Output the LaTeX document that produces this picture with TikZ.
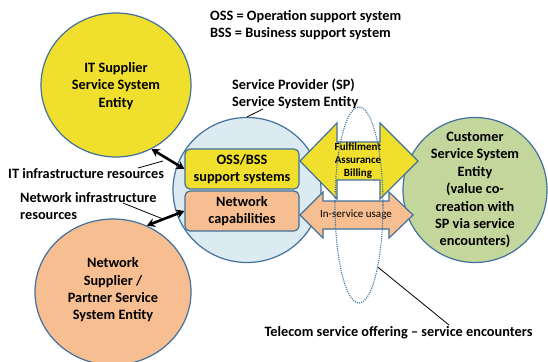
\documentclass[tikz,border=0pt]{standalone}
\usepackage{fontspec}
\setmainfont{Carlito}
\usetikzlibrary{shapes.geometric,arrows.meta}

\definecolor{edgeblue}{RGB}{65,113,156}
\definecolor{sunyellow}{RGB}{240,224,45}
\definecolor{paleblue}{RGB}{219,235,241}
\definecolor{peach}{RGB}{247,190,145}
\definecolor{sage}{RGB}{195,214,155}

\begin{document}
\begin{tikzpicture}[x=1pt,y=-1pt,
  entity/.style={ellipse, draw=edgeblue, line width=1.2pt, inner sep=0pt},
  entitytext/.style={inner sep=0pt, align=center, font=\bfseries\fontsize{14.3}{17.4}\selectfont},
  capbox/.style={rectangle, rounded corners=5pt, draw=edgeblue, line width=1.2pt,
    minimum width=114pt, minimum height=40pt, align=center, inner sep=0pt,
    font=\bfseries\fontsize{14.3}{17}\selectfont},
  flow/.style={draw=edgeblue, line width=1.2pt, line join=miter},
  caption/.style={inner sep=0pt, align=left, font=\bfseries\fontsize{14.3}{17}\selectfont},
  leader/.style={draw=black, line width=0.8pt},
  link/.style={line width=2.6pt, {Stealth[length=8pt,width=9pt]}-{Stealth[length=8pt,width=9pt]}},
  offerline/.style={draw=edgeblue, line width=1.1pt, dash pattern=on 1.1pt off 1.1pt}
]
\fill[white] (0,0) rectangle (548,361);
\useasboundingbox (0,0) rectangle (548,361);

% service system entities
\node[entity, fill=sunyellow, minimum width=150pt, minimum height=144pt] (itsup) at (116,85) {};
\node[entity, fill=peach, minimum width=156pt, minimum height=146pt] (netsup) at (113,292) {};
\node[entity, fill=paleblue, minimum width=148pt, minimum height=145pt] (sp) at (247,190) {};
\node[entity, fill=sage, minimum width=144pt, minimum height=145pt] (cust) at (475,190) {};

\node[entitytext] (ittext) at (116,86) {IT Supplier\\Service System\\Entity};
\node[entitytext] (nettext) at (113,290) {Network\\Supplier /\\Partner Service\\System Entity};
\node[entitytext] (custtext) at (475,190) {Customer\\Service System\\Entity\\(value co-\\creation with\\SP via service\\encounters)};

% SP internal capabilities
\node[capbox, fill=sunyellow] (oss) at (242,169) {OSS/BSS\\support systems};
\node[capbox, fill=peach] (netcap) at (242,211) {Network\\capabilities};

% resource links
\draw[link] (itsup.-61) -- (oss.west);
\draw[link] (netsup.63) -- (netcap.west);

% service flows between SP and customer
\path[flow, fill=peach] (300,215) -- (323,192) -- (323,201) -- (389,201) -- (389,192)
  -- (413,215) -- (389,238) -- (389,229) -- (323,229) -- (323,238) -- cycle;
\node[inner sep=0pt, font=\fontsize{11}{13}\selectfont] (usage) at (356,215) {In-service usage};
\path[flow, fill=sunyellow] (300,161) -- (337,123) -- (337,142) -- (380,142) -- (380,123)
  -- (418,161) -- (380,199) -- (380,180) -- (337,180) -- (337,199) -- cycle;
\node[inner sep=0pt, align=center, font=\bfseries\fontsize{11}{13}\selectfont] (fab) at (358,161) {Fulfilment\\Assurance\\Billing};

% service encounter boundary
\node[ellipse, offerline, minimum width=48pt, minimum height=196pt, inner sep=0pt] (offer) at (359,205) {};

% captions
\node[caption, anchor=west] (abbrev) at (210,25.5) {OSS = Operation support system\\BSS = Business support system};
\node[caption, anchor=west] (splabel) at (232,93.5) {Service Provider (SP)\\Service System Entity};
\node[caption, anchor=west] (itinfra) at (8,174) {IT infrastructure resources};
\node[caption, anchor=west] (netinfra) at (20,206.5) {Network infrastructure\\resources};
\node[caption] (telecom) at (398.5,333) {Telecom service offering \textendash{} service encounters};

% leader lines
\coordinate (spfoot) at (263,109);
\coordinate (itleadA) at (138,168);
\coordinate (itleadB) at (163,161);
\coordinate (netleadA) at (123,203);
\coordinate (netleadB) at (163,219);
\coordinate (telecomfoot) at (449,325);
\draw[leader] (sp.north) -- (spfoot);
\draw[leader] (itleadA) -- (itleadB);
\draw[leader] (netleadA) -- (netleadB);
\draw[leader] (offer.-73) -- (telecomfoot);
\end{tikzpicture}
\end{document}
